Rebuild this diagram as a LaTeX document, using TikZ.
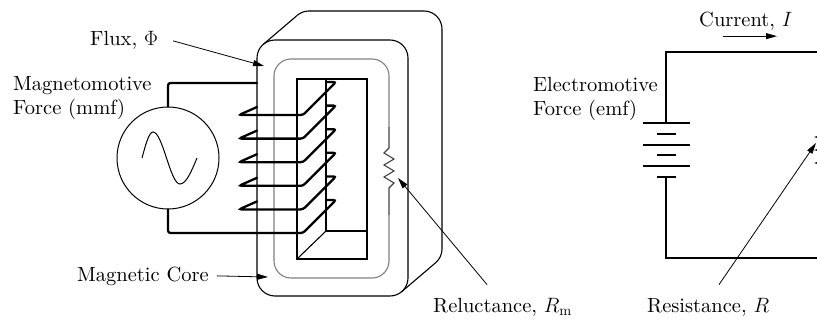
\documentclass[tikz,border=0pt]{standalone}
\usepackage{fontspec}
\setmainfont{lmroman10}[Extension=.otf, UprightFont=*-regular, ItalicFont=*-italic, BoldFont=*-bold]
\usetikzlibrary{arrows.meta}
\begin{document}
\begin{tikzpicture}[x=1pt,y=-1pt,
  coreline/.style={line width=1.1pt},
  coil/.style={line width=2.3pt, rounded corners=2.5pt, line cap=round},
  fluxpath/.style={line width=1.1pt, draw=black!50},
  wire/.style={line width=1.1pt},
  lbl/.style={font=\fontsize{20.5}{23}\selectfont, inner sep=0pt, anchor=base west},
  pointer/.style={line width=0.8pt, -{Triangle[length=11pt,width=6pt]}}]
\useasboundingbox (0,0) rectangle (817,321);
\clip (0,0) rectangle (817,321);

% ---- core: back outline (visible parts) ----
\draw[coreline] (297.3,15.3) arc[start angle=130.5, end angle=90, radius=18pt]
  -- (424,11) arc[start angle=90, end angle=0, radius=18pt]
  -- (442,249) arc[start angle=0, end angle=-49.5, radius=18pt]
  -- (401.7,291.7);
\draw[coreline] (263.3,44.3) -- (297.3,15.3);
% front face
\draw[coreline, rounded corners=18pt] (257,40) rectangle (408,296);

% ---- flux path with reluctance ----
\draw[fluxpath, rounded corners=17pt] (389,127) -- (389,59) -- (274,59) -- (274,278) -- (389,278) -- (389,215);
\draw[line width=1.1pt, draw=black!75] (389,127) -- (389,148) -- (384,153) -- (394,159) -- (384,165)
  -- (394,171) -- (384,177) -- (394,183) -- (389,188) -- (389,215);

% ---- window of the core ----
\draw[coreline] (297,79) rectangle (367,259);
\draw[coreline] (326,79) -- (326,231) -- (367,231);
\draw[coreline] (326,231) -- (297,259);

% ---- generator ----
\node[circle, draw, line width=1pt, minimum size=102pt, inner sep=0pt] (gen) at (168,158) {};
\draw[line width=1pt] (142,158) sin (153,132) cos (166.5,158) sin (180,184) cos (197,158);

% ---- coil ----
\draw[coil] (gen.north) -- (168,83) -- (257,83);
\foreach \i in {0,...,4} {
  \pgfmathsetmacro\F{115+23.6*\i}
  \draw[coil] (257,\F-8) -- (239,\F) -- (303,\F) -- (336,\F-33) -- (326,\F-33);
}
\draw[coil] (gen.south) -- (168,233) -- (303,233) -- (336,200) -- (326,200);

% ---- labels, left ----
\node[lbl] (flux) at (90,46) {Flux, $\Phi$};
\node[lbl] (mmf1) at (13,91) {Magnetomotive};
\node[lbl] (mmf2) at (13,114) {Force (mmf)};
\node[lbl] (core) at (77,281) {Magnetic Core};
\node[lbl] (rel) at (433,312) {Reluctance, $R_{\mathrm{m}}$};
\coordinate (fluxtip) at (264,66);
\coordinate (coretip) at (268,277);
\coordinate (reltip) at (398,178);
\draw[pointer] ([xshift=15pt]flux.east) -- (fluxtip);
\draw[pointer] ([xshift=8pt]core.east) -- (coretip);
\draw[pointer] ([xshift=54pt,yshift=13pt]rel.north west) -- (reltip);

% ---- electric circuit ----
\draw[wire] (830,52) -- (666,52) -- (666,123);
\draw[wire] (666,177) -- (666,258) -- (830,258);
\foreach \y in {123,145,166} \draw[wire] (643,\y) -- (690,\y);
\foreach \y in {134,155,177} \draw[wire] (657,\y) -- (676,\y);
\draw[wire] (827,52) -- (827,126) -- (838,131) -- (816,137) -- (838,143) -- (816,150)
  -- (838,156) -- (816,163) -- (838,169) -- (827,174) -- (827,258);

\node[lbl] (cur) at (699,27) {Current, $I$};
\node[lbl] (emf1) at (533,92) {Electromotive};
\node[lbl] (emf2) at (533,115) {Force (emf)};
\node[lbl] (res) at (647,312) {Resistance, $R$};
\coordinate (restip) at (816,143);
\draw[pointer] ([xshift=24pt,yshift=-5pt]cur.south west) -- ([xshift=78pt,yshift=-5pt]cur.south west);
\draw[pointer] ([xshift=72pt,yshift=13pt]res.north west) -- (restip);
\end{tikzpicture}
\end{document}
